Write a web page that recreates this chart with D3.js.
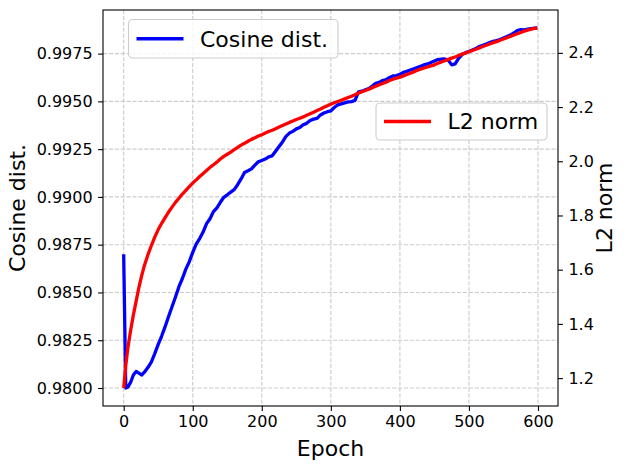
<!DOCTYPE html>
<html>
<head>
<meta charset="utf-8">
<script src="https://cdn.jsdelivr.net/npm/d3@7"></script>
<style>
  html, body { margin: 0; padding: 0; background: #ffffff; }
  svg { display: block; font-family: "DejaVu Sans", sans-serif; }
</style>
</head>
<body>
<svg id="chart" width="630" height="469"></svg>
<script>
// ---- data ----
const epochs = [0,3,6,10,14,18,22,26,30,35,40,45,50,55,60,65,70,75,80,85,90,95,100,105,110,115,120,125,130,135,140,145,150,155,160,165,170,175,180,185,190,195,200,205,210,215,220,225,230,235,240,245,250,255,260,265,270,275,280,285,290,295,300,305,310,315,320,325,330,335,340,345,350,355,360,365,370,375,380,385,390,395,400,405,410,415,420,425,430,435,440,445,450,455,460,465,470,475,480,485,490,495,500,505,510,515,520,525,530,535,540,545,550,555,560,565,570,575,580,585,590,595,599];

const cosineDist = [0.98700,0.98000,0.98005,0.98029,0.98068,0.98087,0.98078,0.98068,0.98083,0.98107,0.98136,0.98180,0.98228,0.98272,0.98321,0.98374,0.98425,0.98476,0.98530,0.98573,0.98622,0.98661,0.98710,0.98753,0.98782,0.98816,0.98860,0.98886,0.98923,0.98943,0.98972,0.98998,0.99011,0.99025,0.99038,0.99064,0.99094,0.99128,0.99137,0.99147,0.99166,0.99184,0.99191,0.99198,0.99210,0.99215,0.99239,0.99264,0.99288,0.99317,0.99334,0.99343,0.99356,0.99363,0.99378,0.99385,0.99400,0.99407,0.99411,0.99429,0.99439,0.99446,0.99450,0.99468,0.99482,0.99487,0.99492,0.99497,0.99499,0.99505,0.99550,0.99553,0.99560,0.99567,0.99580,0.99594,0.99599,0.99609,0.99614,0.99625,0.99633,0.99635,0.99641,0.99652,0.99657,0.99664,0.99670,0.99677,0.99684,0.99691,0.99696,0.99703,0.99711,0.99719,0.99721,0.99722,0.99716,0.99691,0.99696,0.99725,0.99745,0.99755,0.99761,0.99769,0.99777,0.99787,0.99793,0.99800,0.99808,0.99814,0.99818,0.99824,0.99832,0.99839,0.99847,0.99858,0.99871,0.99876,0.99874,0.99878,0.99881,0.99883,0.99884];

const l2Norm = [1.1635,1.2464,1.3101,1.3747,1.4326,1.4837,1.5339,1.5773,1.6158,1.6544,1.6882,1.7200,1.7480,1.7711,1.7924,1.8126,1.8309,1.8483,1.8637,1.8792,1.8927,1.9062,1.9197,1.9313,1.9438,1.9544,1.9660,1.9775,1.9872,1.9968,2.0084,2.0181,2.0258,2.0335,2.0431,2.0509,2.0595,2.0663,2.0740,2.0808,2.0865,2.0933,2.0981,2.1039,2.1097,2.1145,2.1203,2.1261,2.1319,2.1377,2.1435,2.1483,2.1541,2.1589,2.1637,2.1695,2.1753,2.1811,2.1869,2.1926,2.1994,2.2052,2.2110,2.2158,2.2206,2.2254,2.2303,2.2351,2.2399,2.2457,2.2515,2.2563,2.2611,2.2660,2.2717,2.2766,2.2823,2.2872,2.2920,2.2978,2.3026,2.3065,2.3103,2.3151,2.3200,2.3248,2.3296,2.3354,2.3402,2.3441,2.3479,2.3518,2.3557,2.3614,2.3663,2.3711,2.3759,2.3807,2.3846,2.3904,2.3952,2.3991,2.4039,2.4087,2.4135,2.4184,2.4232,2.4280,2.4328,2.4376,2.4415,2.4463,2.4511,2.4560,2.4608,2.4656,2.4704,2.4753,2.4801,2.4839,2.4878,2.4907,2.4917];

const xTicks = [0,100,200,300,400,500,600];
const leftTicks = [0.9800,0.9825,0.9850,0.9875,0.9900,0.9925,0.9950,0.9975];
const rightTicks = [1.2,1.4,1.6,1.8,2.0,2.2,2.4];
const seriesNames = ["Cosine dist.", "L2 norm"];
const seriesColors = ["#0000ff", "#ff0000"];

// ---- layout ----
const svg = d3.select("#chart");
const L = 103, R = 558, T = 10, B = 406;

function padded(ext) { const r = ext[1] - ext[0]; return [ext[0] - 0.05 * r, ext[1] + 0.05 * r]; }

const x = d3.scaleLinear().domain(padded(d3.extent(epochs))).range([L, R]);
const yL = d3.scaleLinear().domain(padded(d3.extent(cosineDist))).range([B, T]);
const yR = d3.scaleLinear().domain(padded(d3.extent(l2Norm))).range([B, T]);

// grid
const grid = svg.append("g").attr("stroke", "#cbcbcb").attr("stroke-width", 1.1).attr("stroke-dasharray", "4.1,1.8");
grid.selectAll("line.vx").data(xTicks).join("line")
  .attr("x1", d => x(d)).attr("x2", d => x(d)).attr("y1", T).attr("y2", B);
grid.selectAll("line.hy").data(leftTicks).join("line")
  .attr("x1", L).attr("x2", R).attr("y1", d => yL(d)).attr("y2", d => yL(d));

// lines
const data = epochs.map((e, i) => ({e, c: cosineDist[i], l: l2Norm[i]}));
const clip = svg.append("defs").append("clipPath").attr("id", "clip")
  .append("rect").attr("x", L).attr("y", T).attr("width", R - L).attr("height", B - T);

svg.append("path").datum(data)
  .attr("clip-path", "url(#clip)")
  .attr("fill", "none").attr("stroke", seriesColors[0]).attr("stroke-width", 3.3)
  .attr("stroke-linejoin", "round").attr("stroke-linecap", "butt")
  .attr("d", d3.line().x(d => x(d.e)).y(d => yL(d.c)));

svg.append("path").datum(data)
  .attr("clip-path", "url(#clip)")
  .attr("fill", "none").attr("stroke", seriesColors[1]).attr("stroke-width", 3.3)
  .attr("stroke-linejoin", "round").attr("stroke-linecap", "butt")
  .attr("d", d3.line().x(d => x(d.e)).y(d => yR(d.l)));

// axes
const fmtL = d3.format(".4f");
const fmtR = d3.format(".1f");
const axB = svg.append("g").attr("transform", `translate(0,${B})`)
  .call(d3.axisBottom(x).tickValues(xTicks).tickFormat(d3.format("d")).tickSize(4.9).tickPadding(4.5));
const axL = svg.append("g").attr("transform", `translate(${L},0)`)
  .call(d3.axisLeft(yL).tickValues(leftTicks).tickFormat(fmtL).tickSize(4.9).tickPadding(5.5));
const axR = svg.append("g").attr("transform", `translate(${R},0)`)
  .call(d3.axisRight(yR).tickValues(rightTicks).tickFormat(fmtR).tickSize(4.9).tickPadding(5.5));
[axB, axL, axR].forEach(a => {
  a.select(".domain").remove();
  a.selectAll(".tick line").attr("stroke", "#000").attr("stroke-width", 1.1);
  a.selectAll(".tick text").attr("fill", "#000").style("font-size", "16px").style("font-family", "DejaVu Sans");
});

// frame
svg.append("rect").attr("x", L).attr("y", T).attr("width", R - L).attr("height", B - T)
  .attr("fill", "none").attr("stroke", "#000").attr("stroke-width", 1.1);

// axis labels
svg.append("text").attr("x", (L + R) / 2).attr("y", 456).attr("text-anchor", "middle")
  .style("font-size", "22px").text("Epoch");
svg.append("text").attr("transform", `translate(25,${(T + B) / 2}) rotate(-90)`).attr("text-anchor", "middle")
  .style("font-size", "22px").text("Cosine dist.");
svg.append("text").attr("transform", `translate(612,${(T + B) / 2}) rotate(-90)`).attr("text-anchor", "middle")
  .style("font-size", "22px").text("L2 norm");

// legends
function legend(bx, by, bw, bh, i) {
  const g = svg.append("g");
  g.append("rect").attr("x", bx).attr("y", by).attr("width", bw).attr("height", bh)
    .attr("rx", 4).attr("ry", 4)
    .attr("fill", "#ffffff").attr("fill-opacity", 0.8).attr("stroke", "#cccccc").attr("stroke-width", 1.1);
  g.append("line").attr("x1", bx + 8).attr("x2", bx + 55).attr("y1", by + bh / 2).attr("y2", by + bh / 2)
    .attr("stroke", seriesColors[i]).attr("stroke-width", 3.3);
  g.append("text").attr("x", bx + 71.5).attr("y", by + bh / 2).attr("dy", "0.36em")
    .style("font-size", "22px").text(seriesNames[i]);
}
legend(128.5, 19.5, 209.5, 38.5, 0);
legend(376, 103, 171, 37, 1);
</script>
</body>
</html>
